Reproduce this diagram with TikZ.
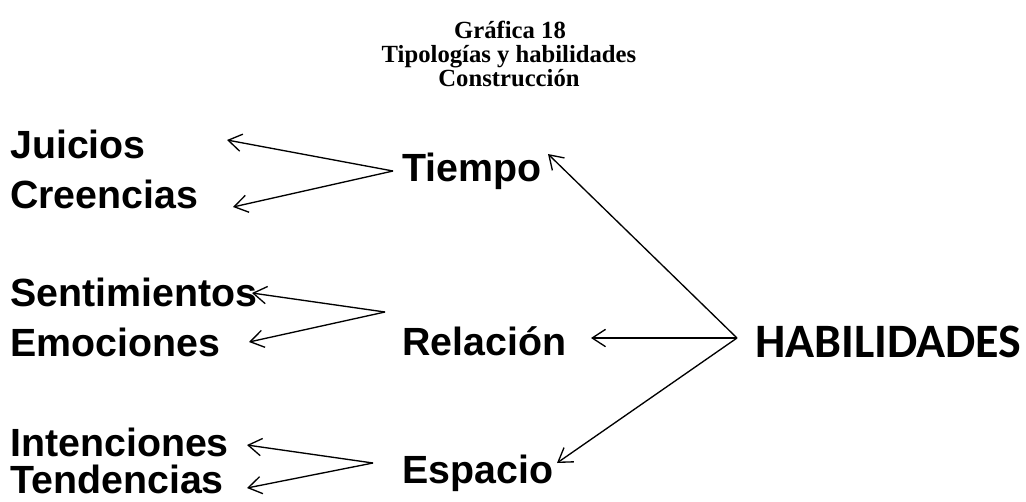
\documentclass[tikz,border=0pt]{standalone}
\usepackage{fontspec}
\setmainfont{Liberation Serif}
\newfontfamily\arialf{Liberation Sans}
\newfontfamily\calf{Carlito}
\usetikzlibrary{arrows.meta}
\begin{document}
\begin{tikzpicture}[x=0.75pt,y=-0.75pt,
  lbl/.style={font=\arialf\bfseries\fontsize{29.5}{31}\selectfont, inner sep=0pt, anchor=base west},
  ttl/.style={font=\bfseries\fontsize{18.5}{20}\selectfont, inner sep=0pt, anchor=base},
  hab/.style={font=\calf\bfseries\fontsize{36}{40}\selectfont, inner sep=0pt, anchor=base west},
  arr/.style={line width=1pt, -{Straight Barb[length=10pt,width=13pt,line width=1pt]}}]
\useasboundingbox (0,0) rectangle (1026,501);
% title
\node[ttl] (t1) at (510,38) {Gráfica 18};
\node[ttl] (t2) at (509,62) {Tipologías y habilidades};
\node[ttl] (t3) at (509,86) {Construcción};
% left labels
\node[lbl] (jui) at (10,158) {Juicios};
\node[lbl] (cre) at (10,208) {Creencias};
\node[lbl] (sen) at (10,306) {Sentimientos};
\node[lbl] (emo) at (10,356) {Emociones};
\node[lbl] (int) at (10,456) {Intenciones};
\node[lbl] (ten) at (10,493) {Tendencias};
% middle labels
\node[lbl] (tie) at (402,181) {Tiempo};
\node[lbl] (rel) at (402,355) {Relación};
\node[lbl] (esp) at (402,483) {Espacio};
% right
\node[hab] (habi) at (755,357) {HABILIDADES};
% apex and tip coordinates
\coordinate (aT) at (393,171);
\coordinate (aR) at (385,312);
\coordinate (aE) at (373,463);
\coordinate (aH) at (737,338);
\coordinate (tJ) at (227,140);
\coordinate (tC) at (233,207);
\coordinate (tS) at (252,293);
\coordinate (tEm) at (249,342);
\coordinate (tI) at (247,445);
\coordinate (tTe) at (247,488);
\coordinate (hT) at (548,154);
\coordinate (hR) at (591,338);
\coordinate (hE) at (557,463);
% connectors
\draw[arr] (aT) -- (tJ);
\draw[arr] (aT) -- (tC);
\draw[arr] (aR) -- (tS);
\draw[arr] (aR) -- (tEm);
\draw[arr] (aE) -- (tI);
\draw[arr] (aE) -- (tTe);
\draw[arr] (aH) -- (hT);
\draw[arr] (aH) -- (hR);
\draw[arr] (aH) -- (hE);
\end{tikzpicture}
\end{document}
